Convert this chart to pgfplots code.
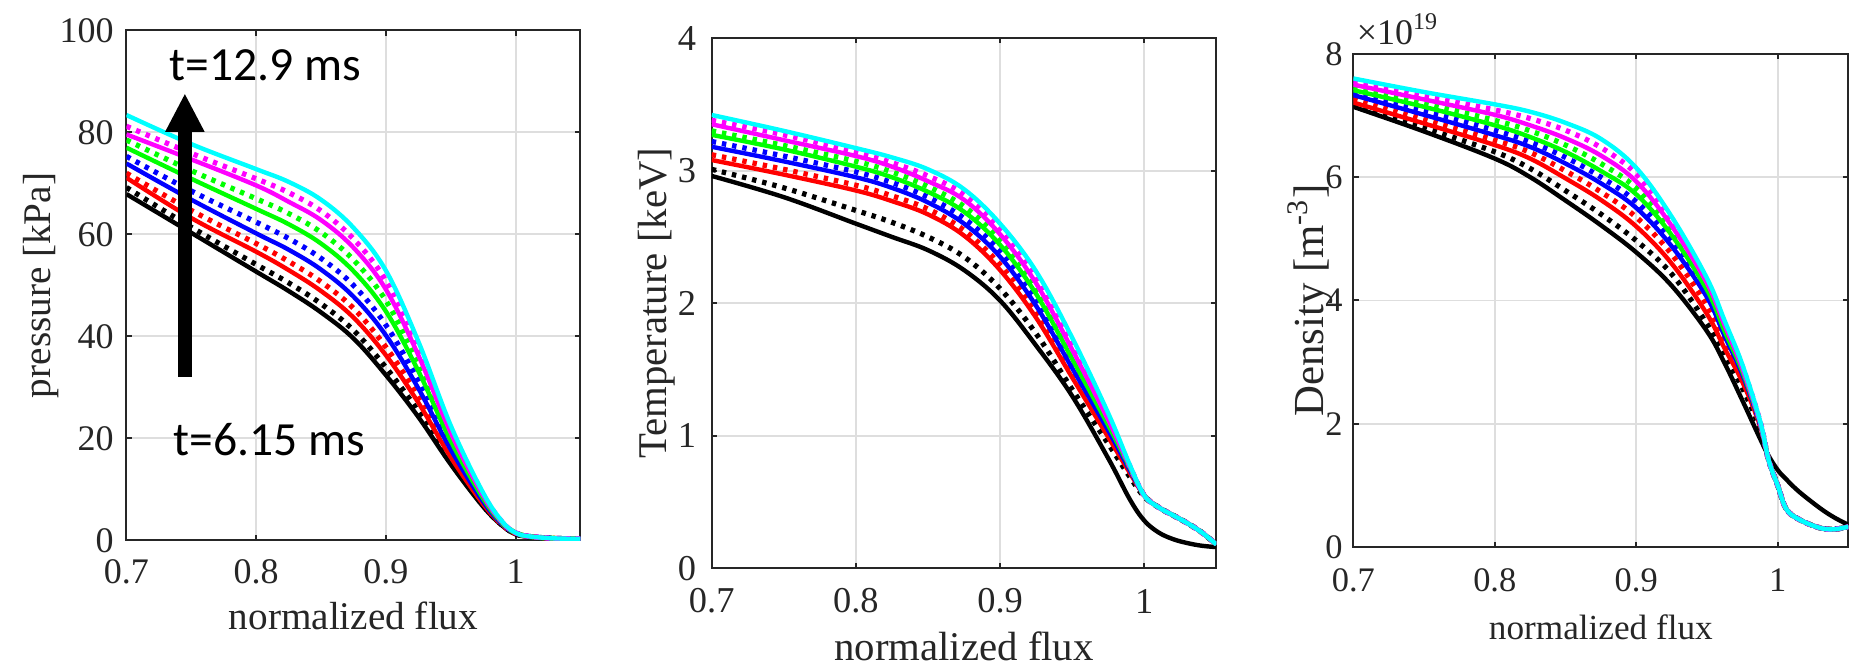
\documentclass[border=0pt]{standalone}
\usepackage{fontspec}
\setmainfont{Liberation Serif}
\newfontfamily\carlito{Carlito}
\usepackage{pgfplots}
\pgfplotsset{compat=1.18}
\definecolor{cK}{rgb}{0,0,0}
\definecolor{cR}{rgb}{1,0,0}
\definecolor{cB}{rgb}{0,0,1}
\definecolor{cG}{rgb}{0,1,0}
\definecolor{cM}{rgb}{1,0,1}
\definecolor{cC}{rgb}{0,1,1}
\pgfplotsset{
  mat/.style={scale only axis, anchor=south west,
    xmin=0.7, xmax=1.05, xtick={0.7,0.8,0.9,1}, xticklabels={0.7,0.8,0.9,1},
    grid=major, grid style={black!13, line width=0.45pt},
    axis line style={black!85, line width=0.5pt},
    tick style={black!85, line width=0.5pt}, major tick length=1.3pt, tick align=inside,
    clip mode=individual,
    /pgf/number format/assume math mode=true,
    xticklabel style={anchor=center, inner sep=0pt, text=black!85},
    yticklabel style={anchor=east, inner sep=0pt, text=black!85},
    xlabel style={anchor=center, text=black!85},
    ylabel style={anchor=center, text=black!85},
  },
  sol/.style={line width=1.1pt, smooth, tension=0.6, line join=round},
  dot/.style={line width=1.3pt, smooth, tension=0.6, dash pattern=on 1.1pt off 1.5pt},
}
\begin{document}
\begin{tikzpicture}
\useasboundingbox (0,0) rectangle (464.25pt,166pt);

% ---------------- Panel 1: pressure ----------------
\begin{axis}[mat, at={(31.625pt,30.9pt)}, width=113.5pt, height=127.5pt,
  ymin=0, ymax=100, ytick={0,20,40,60,80,100},
  xticklabel style={yshift=-7.9pt}, yticklabel style={xshift=-3pt},
  tick label style={font=\rmfamily\fontsize{9}{9}\selectfont},
  xlabel={normalized flux}, ylabel={pressure [kPa]},
  label style={font=\rmfamily\fontsize{9.8}{10}\selectfont},
  xlabel style={at={(axis description cs:0.5,-0.1483)}},
  ylabel style={at={(axis description cs:-0.1872,0.5)}},
]
\addplot[sol, cK] coordinates {(0.70,67.9)(0.75,60.3)(0.80,52.7)(0.825,48.9)(0.85,44.7)(0.875,39.6)(0.90,32.4)(0.925,24.2)(0.95,14.9)(0.975,6.6)(0.99,2.8)(1.00,1.2)(1.01,0.7)(1.03,0.4)(1.05,0.3)};
\addplot[dot, cK] coordinates {(0.70,69.2)(0.75,61.4)(0.80,54.1)(0.825,50.5)(0.85,46.4)(0.875,41.2)(0.90,33.9)(0.925,25.3)(0.95,15.5)(0.975,6.8)(0.99,2.9)(1.00,1.3)(1.01,0.7)(1.03,0.4)(1.05,0.3)};
\addplot[sol, cR] coordinates {(0.70,71.1)(0.75,63.2)(0.80,56.6)(0.825,53.0)(0.85,48.9)(0.875,43.7)(0.90,36.3)(0.925,27.0)(0.95,16.3)(0.975,7.1)(0.99,3.0)(1.00,1.4)(1.01,0.8)(1.03,0.4)(1.05,0.3)};
\addplot[dot, cR] coordinates {(0.70,72.0)(0.75,64.7)(0.80,58.2)(0.825,54.7)(0.85,50.7)(0.875,45.5)(0.90,37.9)(0.925,28.2)(0.95,17.0)(0.975,7.3)(0.99,3.0)(1.00,1.4)(1.01,0.8)(1.03,0.4)(1.05,0.3)};
\addplot[sol, cB] coordinates {(0.70,73.9)(0.75,66.8)(0.80,60.2)(0.825,57.0)(0.85,53.1)(0.875,47.8)(0.90,40.2)(0.925,29.8)(0.95,17.8)(0.975,7.6)(0.99,3.1)(1.00,1.5)(1.01,0.8)(1.03,0.4)(1.05,0.3)};
\addplot[dot, cB] coordinates {(0.70,75.3)(0.75,68.5)(0.80,62.4)(0.825,59.2)(0.85,55.3)(0.875,50.0)(0.90,42.2)(0.925,31.3)(0.95,18.5)(0.975,7.9)(0.99,3.2)(1.00,1.5)(1.01,0.8)(1.03,0.4)(1.05,0.3)};
\addplot[sol, cG] coordinates {(0.70,77.0)(0.75,70.9)(0.80,65.0)(0.825,62.0)(0.85,58.2)(0.875,52.8)(0.90,44.9)(0.925,33.2)(0.95,19.5)(0.975,8.2)(0.99,3.3)(1.00,1.5)(1.01,0.8)(1.03,0.4)(1.05,0.3)};
\addplot[dot, cG] coordinates {(0.70,78.5)(0.75,72.5)(0.80,67.0)(0.825,64.1)(0.85,60.4)(0.875,55.0)(0.90,47.0)(0.925,34.7)(0.95,20.3)(0.975,8.5)(0.99,3.4)(1.00,1.5)(1.01,0.8)(1.03,0.4)(1.05,0.3)};
\addplot[sol, cM] coordinates {(0.70,79.6)(0.75,74.7)(0.80,69.6)(0.825,66.4)(0.85,62.8)(0.875,57.4)(0.90,49.2)(0.925,36.3)(0.95,21.1)(0.975,8.8)(0.99,3.5)(1.00,1.5)(1.01,0.8)(1.03,0.4)(1.05,0.3)};
\addplot[dot, cM] coordinates {(0.70,81.2)(0.75,75.9)(0.80,70.9)(0.825,68.2)(0.85,64.6)(0.875,59.1)(0.90,50.9)(0.925,37.5)(0.95,21.7)(0.975,9.0)(0.99,3.5)(1.00,1.5)(1.01,0.8)(1.03,0.4)(1.05,0.3)};
\addplot[sol, cC] coordinates {(0.70,83.4)(0.75,77.7)(0.80,72.8)(0.825,70.3)(0.85,66.8)(0.875,61.3)(0.90,52.9)(0.925,39.0)(0.95,22.5)(0.975,9.3)(0.99,3.6)(1.00,1.5)(1.01,0.8)(1.03,0.4)(1.05,0.3)};
% arrow annotation
\fill[black] ([xshift=-1.75pt]axis cs:0.745,32) rectangle ([xshift=1.75pt]axis cs:0.745,80.5);
\fill[black] ([xshift=-4.95pt]axis cs:0.745,80.1) -- ([xshift=4.95pt]axis cs:0.745,80.1) -- (axis cs:0.745,87.5) -- cycle;
\node[anchor=base west, inner sep=0pt, font=\carlito\fontsize{11.9}{12}\selectfont] at (axis cs:0.7328,90.2) {t=12.9 ms};
\node[anchor=base west, inner sep=0pt, font=\carlito\fontsize{11.9}{12}\selectfont] at (axis cs:0.7359,16.7) {t=6.15 ms};
\end{axis}

% ---------------- Panel 2: temperature ----------------
\begin{axis}[mat, at={(177.93pt,23.925pt)}, width=126.15pt, height=132.55pt,
  ymin=0, ymax=4, ytick={0,1,2,3,4},
  xticklabel style={yshift=-8.2pt}, yticklabel style={xshift=-3.7pt},
  tick label style={font=\rmfamily\fontsize{9.1}{9}\selectfont},
  xlabel={normalized flux}, ylabel={Temperature [keV]},
  label style={font=\rmfamily\fontsize{10.2}{10}\selectfont},
  xlabel style={at={(axis description cs:0.5,-0.1465)}},
  ylabel style={at={(axis description cs:-0.1092,0.5)}},
]
\addplot[sol, cK] coordinates {(0.70,2.96)(0.75,2.80)(0.80,2.60)(0.825,2.50)(0.85,2.40)(0.875,2.25)(0.90,2.02)(0.925,1.68)(0.95,1.30)(0.975,0.83)(0.99,0.52)(1.00,0.36)(1.01,0.27)(1.02,0.22)(1.03,0.19)(1.04,0.17)(1.05,0.16)};
\addplot[dot, cK] coordinates {(0.70,3.01)(0.75,2.87)(0.80,2.70)(0.825,2.61)(0.85,2.50)(0.875,2.35)(0.90,2.11)(0.925,1.77)(0.95,1.35)(0.975,0.94)(0.99,0.69)(1.00,0.54)(1.01,0.46)(1.02,0.40)(1.03,0.34)(1.04,0.27)(1.05,0.18)};
\addplot[sol, cR] coordinates {(0.70,3.08)(0.75,2.97)(0.80,2.85)(0.825,2.77)(0.85,2.67)(0.875,2.51)(0.90,2.25)(0.925,1.89)(0.95,1.44)(0.975,0.99)(0.99,0.72)(1.00,0.55)(1.01,0.46)(1.02,0.40)(1.03,0.34)(1.04,0.27)(1.05,0.18)};
\addplot[dot, cR] coordinates {(0.70,3.12)(0.75,3.01)(0.80,2.89)(0.825,2.81)(0.85,2.71)(0.875,2.55)(0.90,2.29)(0.925,1.93)(0.95,1.47)(0.975,1.01)(0.99,0.73)(1.00,0.55)(1.01,0.46)(1.02,0.40)(1.03,0.34)(1.04,0.27)(1.05,0.18)};
\addplot[sol, cB] coordinates {(0.70,3.18)(0.75,3.07)(0.80,2.95)(0.825,2.87)(0.85,2.76)(0.875,2.60)(0.90,2.35)(0.925,1.98)(0.95,1.51)(0.975,1.04)(0.99,0.74)(1.00,0.55)(1.01,0.46)(1.02,0.40)(1.03,0.34)(1.04,0.27)(1.05,0.18)};
\addplot[dot, cB] coordinates {(0.70,3.22)(0.75,3.11)(0.80,2.99)(0.825,2.91)(0.85,2.80)(0.875,2.64)(0.90,2.39)(0.925,2.02)(0.95,1.54)(0.975,1.06)(0.99,0.75)(1.00,0.55)(1.01,0.46)(1.02,0.40)(1.03,0.34)(1.04,0.27)(1.05,0.18)};
\addplot[sol, cG] coordinates {(0.70,3.27)(0.75,3.16)(0.80,3.03)(0.825,2.95)(0.85,2.84)(0.875,2.69)(0.90,2.44)(0.925,2.07)(0.95,1.58)(0.975,1.08)(0.99,0.76)(1.00,0.55)(1.01,0.46)(1.02,0.40)(1.03,0.34)(1.04,0.27)(1.05,0.18)};
\addplot[dot, cG] coordinates {(0.70,3.30)(0.75,3.19)(0.80,3.07)(0.825,2.99)(0.85,2.88)(0.875,2.73)(0.90,2.48)(0.925,2.11)(0.95,1.61)(0.975,1.10)(0.99,0.76)(1.00,0.55)(1.01,0.46)(1.02,0.40)(1.03,0.34)(1.04,0.27)(1.05,0.18)};
\addplot[sol, cM] coordinates {(0.70,3.35)(0.75,3.23)(0.80,3.11)(0.825,3.03)(0.85,2.92)(0.875,2.78)(0.90,2.52)(0.925,2.15)(0.95,1.65)(0.975,1.12)(0.99,0.77)(1.00,0.55)(1.01,0.46)(1.02,0.40)(1.03,0.34)(1.04,0.27)(1.05,0.18)};
\addplot[dot, cM] coordinates {(0.70,3.38)(0.75,3.27)(0.80,3.14)(0.825,3.06)(0.85,2.96)(0.875,2.82)(0.90,2.56)(0.925,2.19)(0.95,1.69)(0.975,1.14)(0.99,0.77)(1.00,0.55)(1.01,0.46)(1.02,0.40)(1.03,0.34)(1.04,0.27)(1.05,0.18)};
\addplot[sol, cC] coordinates {(0.70,3.42)(0.75,3.30)(0.80,3.17)(0.825,3.10)(0.85,3.01)(0.875,2.86)(0.90,2.60)(0.925,2.24)(0.95,1.74)(0.975,1.17)(0.99,0.78)(1.00,0.55)(1.01,0.46)(1.02,0.40)(1.03,0.34)(1.04,0.27)(1.05,0.18)};
\end{axis}

% ---------------- Panel 3: density ----------------
\begin{axis}[mat, at={(338.33pt,29.225pt)}, width=123.78pt, height=123.33pt,
  ymin=0, ymax=8, ytick={0,2,4,6,8},
  xticklabel style={yshift=-8.2pt}, yticklabel style={xshift=-2.5pt},
  tick label style={font=\rmfamily\fontsize{8.6}{9}\selectfont},
  xlabel={normalized flux}, ylabel={Density [m\textsuperscript{-3}]},
  xlabel style={font=\rmfamily\fontsize{8.8}{10}\selectfont, at={(axis description cs:0.5,-0.1622)}},
  ylabel style={font=\rmfamily\fontsize{10.7}{11}\selectfont, at={(axis description cs:-0.0875,0.5)}},
]
\addplot[sol, cK] coordinates {(0.70,7.14)(0.75,6.74)(0.80,6.30)(0.825,6.00)(0.85,5.62)(0.875,5.22)(0.90,4.78)(0.925,4.24)(0.95,3.50)(0.9625,2.98)(0.975,2.38)(0.9875,1.76)(0.9936,1.48)(1.00,1.25)(1.006,1.10)(1.015,0.90)(1.03,0.63)(1.04,0.48)(1.05,0.36)};
\addplot[dot, cK] coordinates {(0.70,7.17)(0.75,6.80)(0.80,6.41)(0.825,6.14)(0.85,5.78)(0.875,5.40)(0.90,4.97)(0.925,4.43)(0.95,3.62)(0.9625,3.10)(0.975,2.58)(0.9875,1.92)(0.9936,1.41)(1.00,1.00)(1.006,0.62)(1.015,0.45)(1.03,0.31)(1.04,0.29)(1.05,0.33)};
\addplot[sol, cR] coordinates {(0.70,7.21)(0.75,6.87)(0.80,6.52)(0.825,6.30)(0.85,5.98)(0.875,5.63)(0.90,5.20)(0.925,4.60)(0.95,3.78)(0.9625,3.22)(0.975,2.68)(0.9875,1.97)(0.9936,1.41)(1.00,1.00)(1.006,0.62)(1.015,0.45)(1.03,0.31)(1.04,0.29)(1.05,0.33)};
\addplot[dot, cR] coordinates {(0.70,7.27)(0.75,6.94)(0.80,6.60)(0.825,6.40)(0.85,6.10)(0.875,5.76)(0.90,5.35)(0.925,4.75)(0.95,3.92)(0.9625,3.36)(0.975,2.75)(0.9875,1.98)(0.9936,1.41)(1.00,1.00)(1.006,0.62)(1.015,0.45)(1.03,0.31)(1.04,0.29)(1.05,0.33)};
\addplot[sol, cB] coordinates {(0.70,7.33)(0.75,7.01)(0.80,6.68)(0.825,6.49)(0.85,6.22)(0.875,5.90)(0.90,5.50)(0.925,4.88)(0.95,4.05)(0.9625,3.42)(0.975,2.80)(0.9875,2.00)(0.9936,1.41)(1.00,1.00)(1.006,0.62)(1.015,0.45)(1.03,0.31)(1.04,0.29)(1.05,0.33)};
\addplot[dot, cB] coordinates {(0.70,7.37)(0.75,7.08)(0.80,6.76)(0.825,6.57)(0.85,6.32)(0.875,6.00)(0.90,5.60)(0.925,4.97)(0.95,4.10)(0.9625,3.48)(0.975,2.83)(0.9875,2.01)(0.9936,1.41)(1.00,1.00)(1.006,0.62)(1.015,0.45)(1.03,0.31)(1.04,0.29)(1.05,0.33)};
\addplot[sol, cG] coordinates {(0.70,7.41)(0.75,7.14)(0.80,6.84)(0.825,6.65)(0.85,6.41)(0.875,6.10)(0.90,5.72)(0.925,5.06)(0.95,4.17)(0.9625,3.50)(0.975,2.85)(0.9875,2.02)(0.9936,1.41)(1.00,1.00)(1.006,0.62)(1.015,0.45)(1.03,0.31)(1.04,0.29)(1.05,0.33)};
\addplot[dot, cG] coordinates {(0.70,7.46)(0.75,7.20)(0.80,6.92)(0.825,6.75)(0.85,6.52)(0.875,6.22)(0.90,5.82)(0.925,5.13)(0.95,4.22)(0.9625,3.56)(0.975,2.88)(0.9875,2.03)(0.9936,1.41)(1.00,1.00)(1.006,0.62)(1.015,0.45)(1.03,0.31)(1.04,0.29)(1.05,0.33)};
\addplot[sol, cM] coordinates {(0.70,7.50)(0.75,7.26)(0.80,7.01)(0.825,6.84)(0.85,6.63)(0.875,6.35)(0.90,5.93)(0.925,5.21)(0.95,4.28)(0.9625,3.60)(0.975,2.90)(0.9875,2.03)(0.9936,1.41)(1.00,1.00)(1.006,0.62)(1.015,0.45)(1.03,0.31)(1.04,0.29)(1.05,0.33)};
\addplot[dot, cM] coordinates {(0.70,7.55)(0.75,7.32)(0.80,7.09)(0.825,6.95)(0.85,6.76)(0.875,6.48)(0.90,6.05)(0.925,5.29)(0.95,4.32)(0.9625,3.63)(0.975,2.93)(0.9875,2.04)(0.9936,1.41)(1.00,1.00)(1.006,0.62)(1.015,0.45)(1.03,0.31)(1.04,0.29)(1.05,0.33)};
\addplot[sol, cC] coordinates {(0.70,7.60)(0.75,7.38)(0.80,7.18)(0.825,7.06)(0.85,6.88)(0.875,6.62)(0.90,6.15)(0.925,5.36)(0.95,4.36)(0.9625,3.67)(0.975,2.96)(0.9875,2.05)(0.9936,1.41)(1.00,1.00)(1.006,0.62)(1.015,0.45)(1.03,0.31)(1.04,0.29)(1.05,0.33)};
\node[anchor=base west, inner sep=0pt, text=black!85, font=\rmfamily\fontsize{9}{9}\selectfont] at ([xshift=0.7pt, yshift=2.3pt]rel axis cs:0,1) {×10\textsuperscript{19}};
\end{axis}
\end{tikzpicture}
\end{document}
